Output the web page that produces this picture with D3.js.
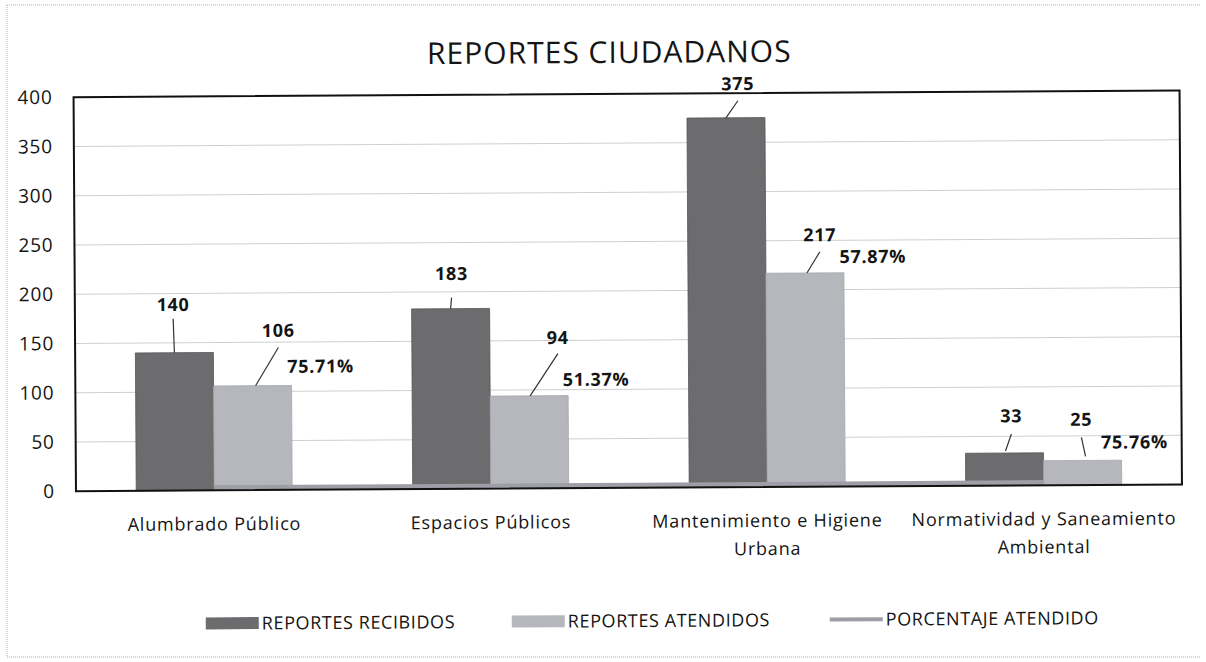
<!DOCTYPE html>
<html lang="es">
<head>
  <meta charset="UTF-8">
  <title>Reportes ciudadanos</title>
  <script src="https://cdn.jsdelivr.net/npm/d3@7"></script>
<style>
body{
  margin: 0;
  background: #fff;
}
#grafico text{
  font-family: "Open Sans", sans-serif;
  fill: #141414;
}
.rejilla line{
  stroke: #cfcfcf;
  stroke-width: 1;
}
.etiqueta{
  font-weight: bold;
  font-size: 18px;
  letter-spacing: 0.7px;
}
</style>
</head>
<body>
  <div id="grafico"></div>

  <script>
    var w = 1206;
    var h = 662;

    // Datos
    var categorias = [["Alumbrado Público"], ["Espacios Públicos"], ["Mantenimiento e Higiene", "Urbana"], ["Normatividad y Saneamiento", "Ambiental"]];
    var recibidos = [140, 183, 375, 33];
    var atendidos = [106, 94, 217, 25];
    var porcentaje = [0.7571, 0.5137, 0.5787, 0.7576];
    var etiquetasPct = ["75.71%", "51.37%", "57.87%", "75.76%"];
    var ticksY = [0, 50, 100, 150, 200, 250, 300, 350, 400];

    // desplazamiento manual de las etiquetas (como en Excel)
    var ajusteRec = [[-1, -48, -34], [1, -35, -11], [12, -34, -17], [7, -37, -19]];
    var ajusteAte = [[26, -55, -38], [29, -58, -42], [15, -38, -21], [-1, -41, -23]];
    var ajusteRecFin = [[0, 0], [0, 0], [0, 0], [1, -2]];
    var ajusteAteFin = [[3, 0], [1, 0], [2, 0], [3, -4]];
    var ajustePct = [[68, -19], [67, -16], [68, -16], [52, -18]];

    var colorRec = "#6c6c6e";
    var colorAte = "#b5b7bc";
    var colorPct = "#9d9ea6";

    var margen = {izq: 75, der: 1181, arriba: 94, abajo: 488};
    var anchoBarra = 78;

    var svg = d3.select("#grafico")
      .append("svg")
      .attr("width", w)
      .attr("height", h);

    // borde punteado del escaneo
    var borde = svg.append("g")
      .attr("stroke", "#b0b0b0")
      .attr("stroke-dasharray", "1,1");
    borde.append("line").attr("x1", 7).attr("x2", 1200).attr("y1", 5).attr("y2", 5);
    borde.append("line").attr("x1", 7).attr("x2", 7).attr("y1", 5).attr("y2", 657);
    borde.append("line").attr("x1", 7).attr("x2", 1200).attr("y1", 657).attr("y2", 657);

    var g = svg.append("g")
      .attr("transform", "rotate(-0.35, 600, 330)");

    //Escalas
    var xScale = d3.scaleBand()
      .domain(d3.range(categorias.length))
      .range([margen.izq, margen.der]);

    var yScale = d3.scaleLinear()
      .domain([0, 400])
      .range([margen.abajo, margen.arriba]);

    // Titulo
    g.append("text")
      .attr("x", 611)
      .attr("y", 63)
      .attr("text-anchor", "middle")
      .style("font-size", "30px")
      .style("letter-spacing", "1px")
      .text("REPORTES CIUDADANOS");

    // rejilla
    g.append("g")
      .attr("class", "rejilla")
      .selectAll("line")
      .data(ticksY.slice(1, -1))
      .enter()
      .append("line")
      .attr("x1", margen.izq)
      .attr("x2", margen.der)
      .attr("y1", function(d){ return yScale(d); })
      .attr("y2", function(d){ return yScale(d); });

    // eje Y
    var ejeY = g.append("g")
      .attr("transform", "translate(" + (margen.izq - 21) + ",0)")
      .call(d3.axisLeft(yScale).tickValues(ticksY).tickSize(0).tickPadding(0));
    ejeY.select(".domain").remove();
    ejeY.selectAll("text")
      .style("font-size", "19px")
      .style("letter-spacing", "0.8px");

    // barras
    var centro = function(i){ return xScale(i) + xScale.bandwidth() / 2; };

    g.selectAll(".rec")
      .data(recibidos)
      .enter()
      .append("rect")
      .attr("class", "rec")
      .attr("x", function(d, i){ return centro(i) - anchoBarra; })
      .attr("y", function(d){ return yScale(d); })
      .attr("width", anchoBarra)
      .attr("height", function(d){ return yScale(0) - yScale(d); })
      .attr("fill", colorRec)
      .attr("stroke", "#555")
      .attr("stroke-width", 0.8);

    g.selectAll(".ate")
      .data(atendidos)
      .enter()
      .append("rect")
      .attr("class", "ate")
      .attr("x", function(d, i){ return centro(i); })
      .attr("y", function(d){ return yScale(d); })
      .attr("width", anchoBarra)
      .attr("height", function(d){ return yScale(0) - yScale(d); })
      .attr("fill", colorAte)
      .attr("stroke", "#a5a7ad")
      .attr("stroke-width", 0.8);

    // linea de porcentaje
    var line = d3.line()
      .x(function(d, i){ return centro(i); })
      .y(function(d){ return yScale(d) - 2; });

    g.append("path")
      .datum(porcentaje)
      .attr("d", line)
      .attr("fill", "none")
      .attr("stroke", colorPct)
      .attr("stroke-width", 5);

    // marco del area de trazado
    g.append("rect")
      .attr("x", margen.izq)
      .attr("y", margen.arriba)
      .attr("width", margen.der - margen.izq)
      .attr("height", margen.abajo - margen.arriba)
      .attr("fill", "none")
      .attr("stroke", "#111")
      .attr("stroke-width", 2);

    // etiquetas de datos
    function etiquetas(valores, ajuste, fin, cx){
      valores.forEach(function(v, i){
        var x = cx(i), y = yScale(v);
        g.append("line")
          .attr("x1", x + ajuste[i][0])
          .attr("y1", y + ajuste[i][2])
          .attr("x2", x + fin[i][0])
          .attr("y2", y + fin[i][1])
          .attr("stroke", "#333")
          .attr("stroke-width", 1.2);
        g.append("text")
          .attr("class", "etiqueta")
          .attr("x", x + ajuste[i][0])
          .attr("y", y + ajuste[i][1])
          .attr("dy", "0.35em")
          .attr("text-anchor", "middle")
          .text(v);
      });
    }
    etiquetas(recibidos, ajusteRec, ajusteRecFin, function(i){ return centro(i) - anchoBarra / 2; });
    etiquetas(atendidos, ajusteAte, ajusteAteFin, function(i){ return centro(i) + anchoBarra / 2; });

    atendidos.forEach(function(v, i){
      g.append("text")
        .attr("class", "etiqueta")
        .attr("x", centro(i) + anchoBarra / 2 + ajustePct[i][0])
        .attr("y", yScale(v) + ajustePct[i][1])
        .attr("dy", "0.35em")
        .attr("text-anchor", "middle")
        .text(etiquetasPct[i]);
    });

    // categorias
    categorias.forEach(function(c, i){
      var t = g.append("text")
        .attr("x", centro(i))
        .attr("y", 528)
        .attr("text-anchor", "middle")
        .style("font-size", "18px")
        .style("letter-spacing", "0.8px");
      c.forEach(function(linea, k){
        t.append("tspan")
          .attr("x", centro(i))
          .attr("dy", k === 0 ? 0 : 28)
          .text(linea);
      });
    });

    // leyenda
    var leyenda = [
      {nombre: "REPORTES RECIBIDOS", color: colorRec, x: 204, tipo: "barra"},
      {nombre: "REPORTES ATENDIDOS", color: colorAte, x: 510, tipo: "barra"},
      {nombre: "PORCENTAJE ATENDIDO", color: colorPct, x: 828, tipo: "linea"}
    ];
    var ley = g.selectAll(".ley")
      .data(leyenda)
      .enter()
      .append("g")
      .attr("transform", function(d){ return "translate(" + d.x + ",621)"; });
    ley.filter(function(d){ return d.tipo === "barra"; })
      .append("rect")
      .attr("x", 0).attr("y", -6)
      .attr("width", 53).attr("height", 12)
      .attr("fill", function(d){ return d.color; });
    ley.filter(function(d){ return d.tipo === "linea"; })
      .append("line")
      .attr("x1", 0).attr("x2", 53)
      .attr("stroke", function(d){ return d.color; })
      .attr("stroke-width", 4);
    ley.append("text")
      .attr("x", 56)
      .attr("dy", "0.35em")
      .style("font-size", "18px")
      .style("letter-spacing", "0.6px")
      .text(function(d){ return d.nombre; });
  </script>
</body>
</html>
